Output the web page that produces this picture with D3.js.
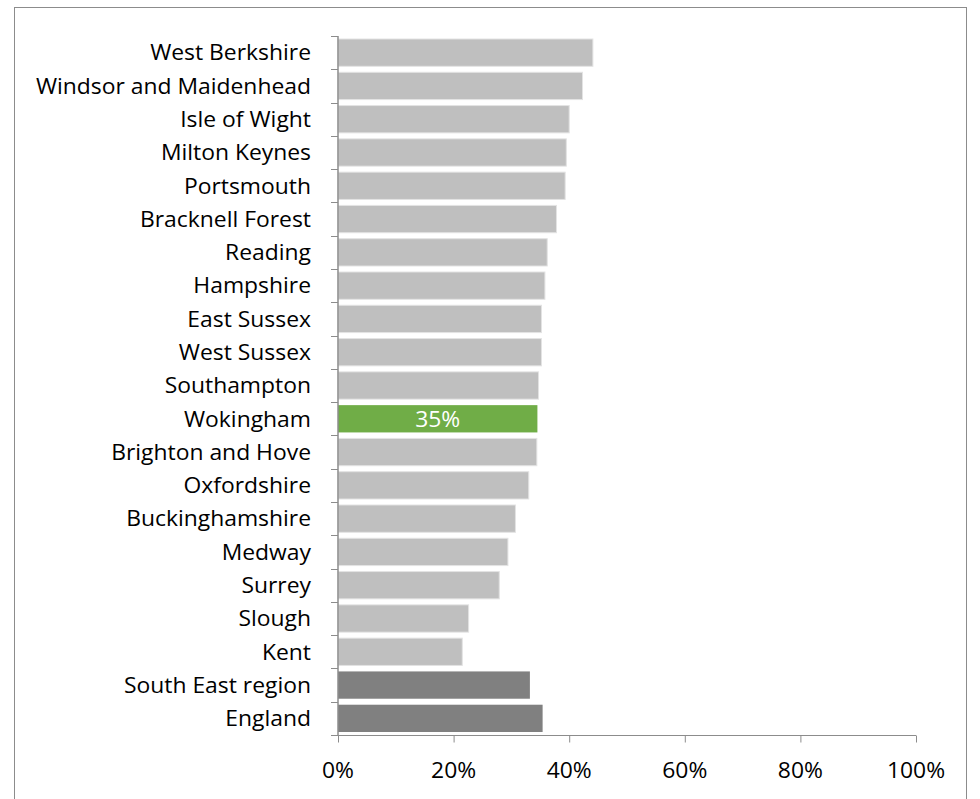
<!DOCTYPE html>
<html><head><meta charset="utf-8">
<script src="https://cdn.jsdelivr.net/npm/d3@7"></script>
<style>body{margin:0;background:#fff}svg{display:block}text{font-family:"Open Sans",sans-serif}</style>
</head><body>
<svg id="c" width="980" height="799"></svg>
<script>
const categories = ["West Berkshire","Windsor and Maidenhead","Isle of Wight","Milton Keynes","Portsmouth","Bracknell Forest","Reading","Hampshire","East Sussex","West Sussex","Southampton","Wokingham","Brighton and Hove","Oxfordshire","Buckinghamshire","Medway","Surrey","Slough","Kent","South East region","England"];
const values = [44.1,42.3,40.0,39.5,39.3,37.8,36.2,35.8,35.2,35.2,34.7,34.5,34.4,33.0,30.7,29.4,27.9,22.6,21.5,33.2,35.4];
const kinds = ["la","la","la","la","la","la","la","la","la","la","la","focus","la","la","la","la","la","la","la","region","region"];
const xTicks = [0,20,40,60,80,100];
const focusLabel = "35%";
const colors = {la:"#bfbfbf", focus:"#70ad47", region:"#808080"};

const FS = 21, SX = 1.09;
const svg = d3.select("#c");
svg.append("rect").attr("x",14.5).attr("y",7.5).attr("width",952).attr("height",800)
  .attr("fill","none").attr("stroke","#8c8c8c").attr("stroke-width",1);

const x = d3.scaleLinear().domain([0,100]).range([338,916]);
const y = d3.scaleBand().domain(categories).range([36,735]).paddingInner(0.18).paddingOuter(0.09);

function label(parent, tx, ty, txt, anchor, fill){
  parent.append("g").attr("transform",`translate(${tx},${ty}) scale(${SX},1)`)
    .append("text").attr("text-anchor",anchor).attr("font-size",FS).attr("fill",fill).text(txt);
}

const g = svg.append("g");
g.selectAll("rect.bar").data(categories).join("rect").attr("class","bar")
  .attr("x",x(0)).attr("y",d=>y(d)).attr("width",(d,i)=>x(values[i])-x(0)).attr("height",y.bandwidth())
  .attr("fill",(d,i)=>colors[kinds[i]])
  .attr("stroke",(d,i)=>kinds[i]==="la"?"#e3e3e3":"none").attr("stroke-width",1);

const step = y.step();
const yAxis = g.append("g");
yAxis.append("line").attr("x1",338).attr("x2",338).attr("y1",36).attr("y2",735).attr("stroke","#8c8c8c").attr("stroke-width",1.5);
d3.range(categories.length+1).forEach(i=>{
  const yy = Math.round(36+i*step)+0.5;
  yAxis.append("line").attr("x1",331).attr("x2",338).attr("y1",yy).attr("y2",yy).attr("stroke","#8c8c8c");
});
categories.forEach((c,i)=>{
  const cy = y(c)+y.bandwidth()/2;
  label(yAxis, 311, cy+7.8, c, "end", "#000");
  if(kinds[i]==="focus") label(g, (x(0)+x(values[i]))/2, cy+7.8, focusLabel, "middle", "#fff");
});

const xa = g.append("g").attr("transform","translate(0,735.5)")
  .call(d3.axisBottom(x).tickValues(xTicks).tickFormat("").tickSize(7));
xa.select(".domain").attr("stroke","#8c8c8c").attr("d","M331,0H916");
xa.selectAll(".tick line").attr("stroke","#8c8c8c");
xTicks.forEach(t=>label(g, x(t), 778, t+"%", "middle", "#000"));
</script>
</body></html>
